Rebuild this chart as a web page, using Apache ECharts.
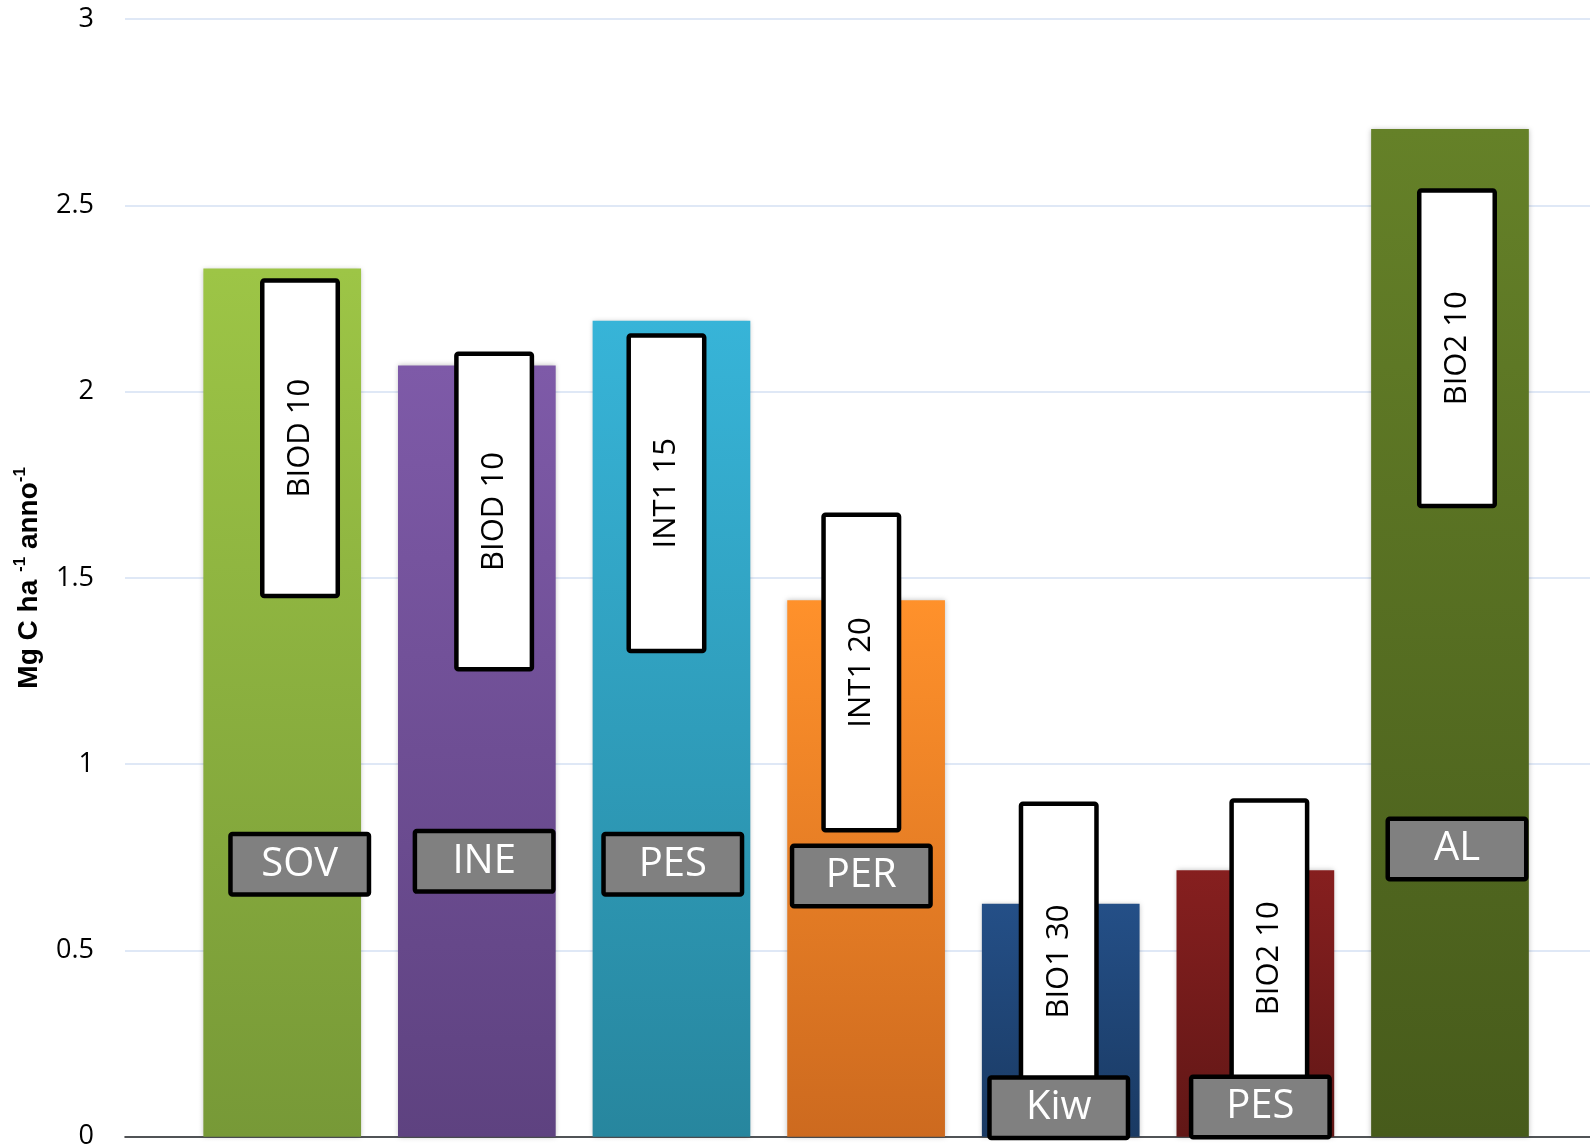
<!DOCTYPE html>
<html>
<head>
<meta charset="utf-8">
<script src="https://cdn.jsdelivr.net/npm/echarts@6/dist/echarts.min.js"></script>
<style>
  html, body { margin: 0; padding: 0; background: #fff; }
  #chart { width: 1590px; height: 1144px; }
</style>
</head>
<body>
<div id="chart"></div>
<script>
// ---- data ----
const categories = ['SOV', 'INE', 'PES', 'PER', 'Kiw', 'PES', 'AL'];
const values = [2.33, 2.07, 2.19, 1.44, 0.625, 0.715, 2.705];
const boxLabels = ['BIOD 10', 'BIOD 10', 'INT1 15', 'INT1 20', 'BIO1 30', 'BIO2 10', 'BIO2 10'];
const yTicks = [0, 0.5, 1, 1.5, 2, 2.5, 3];

// ---- annotation layout (text boxes placed over the bars) ----
// [px offset from category centre, centre in value units]
const whiteBoxPos = [[17.8, 1.875], [17.3, 1.678], [-5, 1.727], [-4.8, 1.246], [-2, 0.470], [14, 0.479], [7, 2.116]];
const grayBoxPos  = [[17.5, 0.731], [7.3, 0.739], [1.3, 0.731], [-4.8, 0.700], [-2, 0.078], [5, 0.080], [7, 0.772]];

const barColors = [
  ['#9DC546', '#779937'],
  ['#7E5AA8', '#5E4280'],
  ['#37B4D8', '#27869E'],
  ['#FF912B', '#CD6A1F'],
  ['#244F87', '#1A3A63'],
  ['#861F1F', '#611716'],
  ['#658128', '#475B1B']
];

const TOP = 19, BOTTOM = 7.3;
const chart = echarts.init(document.getElementById('chart'));

const barData = values.map((v, i) => ({
  value: v,
  itemStyle: {
    color: new echarts.graphic.LinearGradient(0, 0, 0, 1, [
      { offset: 0, color: barColors[i][0] },
      { offset: 1, color: barColors[i][1] }
    ])
  }
}));

const whiteData = boxLabels.map((t, i) => [i, whiteBoxPos[i][1], whiteBoxPos[i][0], t]);
const grayData = categories.map((t, i) => [i, grayBoxPos[i][1], grayBoxPos[i][0], t]);

function boxRenderer(w, h, fill, textColor, fontSize, rot) {
  return function (params, api) {
    const c = api.coord([api.value(0), api.value(1)]);
    const cx = c[0] + api.value(2);
    const cy = c[1];
    const lw = 4.5;
    return {
      type: 'group',
      children: [
        {
          type: 'rect',
          shape: { x: cx - (w - lw) / 2, y: cy - (h - lw) / 2, width: w - lw, height: h - lw, r: 2 },
          style: { fill: fill, stroke: '#000', lineWidth: lw, lineJoin: 'round' }
        },
        {
          type: 'text',
          x: cx, y: cy,
          rotation: rot,
          style: {
            text: api.value(3),
            fill: textColor,
            font: fontSize + 'px "Open Sans", sans-serif',
            align: 'center',
            verticalAlign: 'middle'
          }
        }
      ]
    };
  };
}

const option = {
  backgroundColor: '#ffffff',
  animation: false,
  grid: [
    { left: 125, right: 0, top: TOP, bottom: BOTTOM, outerBoundsMode: 'none', containLabel: false },
    { left: 184.9, width: 1362.4, top: TOP, bottom: BOTTOM, outerBoundsMode: 'none', containLabel: false }
  ],
  xAxis: [
    {
      type: 'value', gridIndex: 0, min: 0, max: 1,
      axisLine: { show: true, lineStyle: { color: '#222', width: 1.6 } },
      axisTick: { show: false }, axisLabel: { show: false }, splitLine: { show: false }
    },
    {
      type: 'category', gridIndex: 1, data: categories,
      axisLine: { show: false }, axisTick: { show: false }, axisLabel: { show: false }
    }
  ],
  yAxis: [
    {
      type: 'value', gridIndex: 0, min: yTicks[0], max: yTicks[yTicks.length - 1], interval: 0.5,
      axisLine: { show: false }, axisTick: { show: false },
      axisLabel: { fontSize: 27, color: '#000', margin: 31, fontFamily: '"Open Sans", sans-serif' },
      splitLine: { lineStyle: { color: '#D4E0F3', width: 1.6 } },
      name: '{b|Mg C ha }{s|-1}{b| anno}{s|-1}',
      nameLocation: 'middle',
      nameGap: 79,
      nameRotate: 90,
      nameTextStyle: {
        rich: {
          b: { fontSize: 28, fontWeight: 'bold', color: '#000', lineHeight: 34, fontFamily: '"Liberation Sans", Arial, sans-serif' },
          s: { fontSize: 17, fontWeight: 'bold', color: '#000', verticalAlign: 'top', fontFamily: '"Liberation Sans", Arial, sans-serif' }
        }
      }
    },
    {
      type: 'value', gridIndex: 1, min: 0, max: 3, interval: 0.5, show: false,
      splitLine: { show: false }
    }
  ],
  series: [
    {
      type: 'bar', xAxisIndex: 1, yAxisIndex: 1,
      data: barData,
      barWidth: 157.7,
      itemStyle: { shadowBlur: 5, shadowColor: 'rgba(0,0,0,0.25)' },
      z: 2
    },
    {
      type: 'custom', xAxisIndex: 1, yAxisIndex: 1,
      data: whiteData,
      renderItem: boxRenderer(80, 320, '#ffffff', '#000000', 31, Math.PI / 2),
      z: 3
    },
    {
      type: 'custom', xAxisIndex: 1, yAxisIndex: 1,
      data: grayData,
      renderItem: boxRenderer(143, 65, '#808080', '#ffffff', 40, 0),
      z: 4
    }
  ]
};
chart.setOption(option);
</script>
</body>
</html>
